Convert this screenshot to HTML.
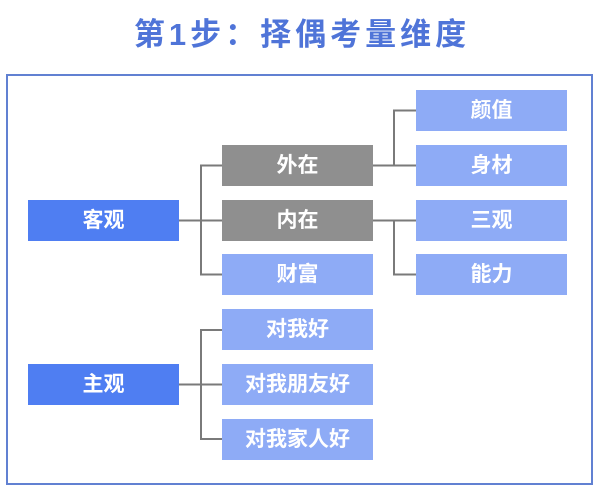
<!DOCTYPE html>
<html>
<head>
<meta charset="utf-8">
<style>
  html, body { margin:0; padding:0; background:#ffffff; }
  body { width:600px; height:500px; position:relative; overflow:hidden;
         font-family:"Liberation Sans","Noto Sans CJK SC",sans-serif; }
  .title { position:absolute; left:0; top:14px; width:600px; text-align:center;
           font-size:31px; font-weight:bold; color:#4f74d8; letter-spacing:4px;
           line-height:42px; padding-left:4px; box-sizing:border-box; }
  .frame { position:absolute; left:6px; top:74px; width:587px; height:411px;
           box-sizing:border-box; border:2.5px solid #6181d2; }
  .box { position:absolute; color:#ffffff; font-weight:bold; font-size:21px;
         text-align:center; line-height:41px; height:41px; }
  .blue { background:#4f7ef2; }
  .gray { background:#8f8f8f; }
  .lb { background:#8eabf6; }
  svg { position:absolute; left:0; top:0; }
</style>
</head>
<body>
<div class="title">第1步：择偶考量维度</div>
<div class="frame"></div>

<svg width="600" height="500">
  <g stroke="#7a7a7a" stroke-width="2" fill="none">
    <!-- 客观 connectors -->
    <line x1="179" y1="220.5" x2="222" y2="220.5"/>
    <line x1="201" y1="165.5" x2="201" y2="274.5"/>
    <line x1="200" y1="165.5" x2="222" y2="165.5"/>
    <line x1="200" y1="274.5" x2="222" y2="274.5"/>
    <!-- 外在 connectors -->
    <line x1="373" y1="165.5" x2="416" y2="165.5"/>
    <line x1="394" y1="110.5" x2="394" y2="165.5"/>
    <line x1="393" y1="110.5" x2="416" y2="110.5"/>
    <!-- 内在 connectors -->
    <line x1="373" y1="220.5" x2="416" y2="220.5"/>
    <line x1="394" y1="220.5" x2="394" y2="274.5"/>
    <line x1="393" y1="274.5" x2="416" y2="274.5"/>
    <!-- 主观 connectors -->
    <line x1="179" y1="384.5" x2="222" y2="384.5"/>
    <line x1="201" y1="330" x2="201" y2="439"/>
    <line x1="200" y1="330" x2="222" y2="330"/>
    <line x1="200" y1="439" x2="222" y2="439"/>
  </g>
</svg>

<div class="box blue" style="left:28px;top:200px;width:151px;">客观</div>
<div class="box blue" style="left:28px;top:364px;width:151px;">主观</div>

<div class="box gray" style="left:222px;top:145px;width:151px;">外在</div>
<div class="box gray" style="left:222px;top:200px;width:151px;">内在</div>
<div class="box lb" style="left:222px;top:254px;width:151px;">财富</div>
<div class="box lb" style="left:222px;top:309px;width:151px;">对我好</div>
<div class="box lb" style="left:222px;top:364px;width:151px;">对我朋友好</div>
<div class="box lb" style="left:222px;top:419px;width:151px;">对我家人好</div>

<div class="box lb" style="left:416px;top:90px;width:151px;">颜值</div>
<div class="box lb" style="left:416px;top:145px;width:151px;">身材</div>
<div class="box lb" style="left:416px;top:200px;width:151px;">三观</div>
<div class="box lb" style="left:416px;top:254px;width:151px;">能力</div>
</body>
</html>
